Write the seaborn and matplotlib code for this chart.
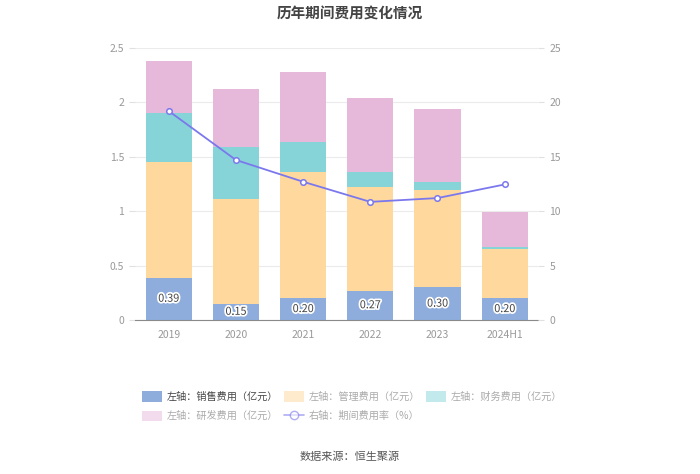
"""
历年期间费用变化情况 - stacked bars + period expense ratio line
"""

import numpy as np
import pandas as pd
import matplotlib
matplotlib.use('Agg')
import matplotlib.pyplot as plt
import matplotlib.patheffects as pe
from matplotlib.patches import Patch
from matplotlib.lines import Line2D
import seaborn as sns

# data
years = ['2019', '2020', '2021', '2022', '2023', '2024H1']
sales = [0.39, 0.15, 0.20, 0.27, 0.30, 0.20]      # 销售费用
admin = [1.06, 0.96, 1.16, 0.95, 0.89, 0.45]      # 管理费用
finance = [0.455, 0.475, 0.275, 0.135, 0.076, 0.018]  # 财务费用
rnd = [0.478, 0.54, 0.64, 0.68, 0.67, 0.32]       # 研发费用
ratio = [19.2, 14.7, 12.7, 10.85, 11.2, 12.45]    # 期间费用率 (%)

names = ['左轴：销售费用（亿元）', '左轴：管理费用（亿元）', '左轴：财务费用（亿元）',
         '左轴：研发费用（亿元）', '右轴：期间费用率（%）']
colors = ['#8eaddd', '#fed89c', '#86d4d8', '#e6b8da']
line_color = '#7b78ee'

sns.set_style('white')
plt.rcParams['font.family'] = ['Noto Sans CJK SC', 'DejaVu Sans']

df = pd.DataFrame({'year': years, 'sales': sales, 'admin': admin,
                   'finance': finance, 'rnd': rnd, 'ratio': ratio})
# cumulative heights, drawn tallest first so that the bars overlap as a stack
df['c1'] = df['sales']
df['c2'] = df['c1'] + df['admin']
df['c3'] = df['c2'] + df['finance']
df['c4'] = df['c3'] + df['rnd']

fig = plt.figure(figsize=(7, 4.74), dpi=100)
ax = fig.add_axes([0.193, 0.325, 0.576, 0.574])

for col, c in zip(['c4', 'c3', 'c2', 'c1'], colors[::-1]):
    sns.barplot(data=df, x='year', y=col, color=c, width=0.69,
                saturation=1, linewidth=0, edgecolor='none', ax=ax, zorder=2)

# value labels in the sales segment
for i, v in enumerate(sales):
    ax.text(i, v / 2, f'{v:.2f}', ha='center', va='center', fontsize=7.8,
            color='#444444', zorder=5,
            path_effects=[pe.withStroke(linewidth=2.5, foreground='white')])

ax.set_ylim(0, 2.5)
ax.set_yticks(np.arange(0, 2.51, 0.5))
ax.set_yticklabels(['0', '0.5', '1', '1.5', '2', '2.5'])
ax.set_xlim(-0.5, len(years) - 0.5)
ax.set_xlabel('')
ax.set_ylabel('')
ax.grid(axis='y', color='#ebebeb', linewidth=0.8, zorder=0)
ax.set_axisbelow(True)
for s in ['top', 'right', 'left']:
    ax.spines[s].set_visible(False)
ax.spines['bottom'].set_color('#8a8a8a')
ax.tick_params(axis='y', length=4, color='#e0e0e0', labelsize=7.5,
               labelcolor='#999999', pad=4)
ax.tick_params(axis='x', length=4, color='#8a8a8a', labelsize=7.5,
               labelcolor='#999999', pad=3)

# right axis: period expense ratio
ax2 = ax.twinx()
xpos = np.arange(len(years))
sns.lineplot(x=xpos, y=df['ratio'], ax=ax2, color=line_color, linewidth=1.3,
             marker='o', markersize=4, markerfacecolor='white',
             markeredgecolor=line_color, markeredgewidth=1.1, zorder=4)
ax2.set_ylim(0, 25)
ax2.set_yticks(np.arange(0, 26, 5))
ax2.set_ylabel('')
for s in ['top', 'right', 'left', 'bottom']:
    ax2.spines[s].set_visible(False)
ax2.tick_params(axis='y', length=4, color='#e0e0e0', labelsize=7.5,
                labelcolor='#999999', pad=4)

fig.text(0.5, 0.972, '历年期间费用变化情况', ha='center', va='center',
         fontsize=10.5, fontweight='bold', color='#444444')
fig.text(0.5, 0.036, '数据来源：恒生聚源', ha='center', va='center',
         fontsize=8, color='#555555')

# legend (first entry shown active, the rest muted)
handles = [Patch(facecolor=colors[0], edgecolor='none'),
           Patch(facecolor=colors[1], edgecolor='none', alpha=0.5),
           Patch(facecolor=colors[2], edgecolor='none', alpha=0.5),
           Patch(facecolor=colors[3], edgecolor='none', alpha=0.5),
           Line2D([], [], color=line_color, alpha=0.6, linewidth=1.2, marker='o',
                  markersize=6, markerfacecolor='white',
                  markeredgecolor=line_color)]
# matplotlib fills legend columns first; reorder so rows read left to right
order = [0, 3, 1, 4, 2]
leg = fig.legend([handles[k] for k in order], [names[k] for k in order],
                 loc='center', bbox_to_anchor=(0.503, 0.143),
                 ncol=3, frameon=False, fontsize=7.3, handlelength=2.0,
                 handleheight=1.2, handletextpad=0.45, columnspacing=0.55,
                 labelspacing=0.85)
for k, t in zip(order, leg.get_texts()):
    t.set_color('#444444' if k == 0 else '#aaaaaa')

fig.savefig('out.png', dpi=100)
